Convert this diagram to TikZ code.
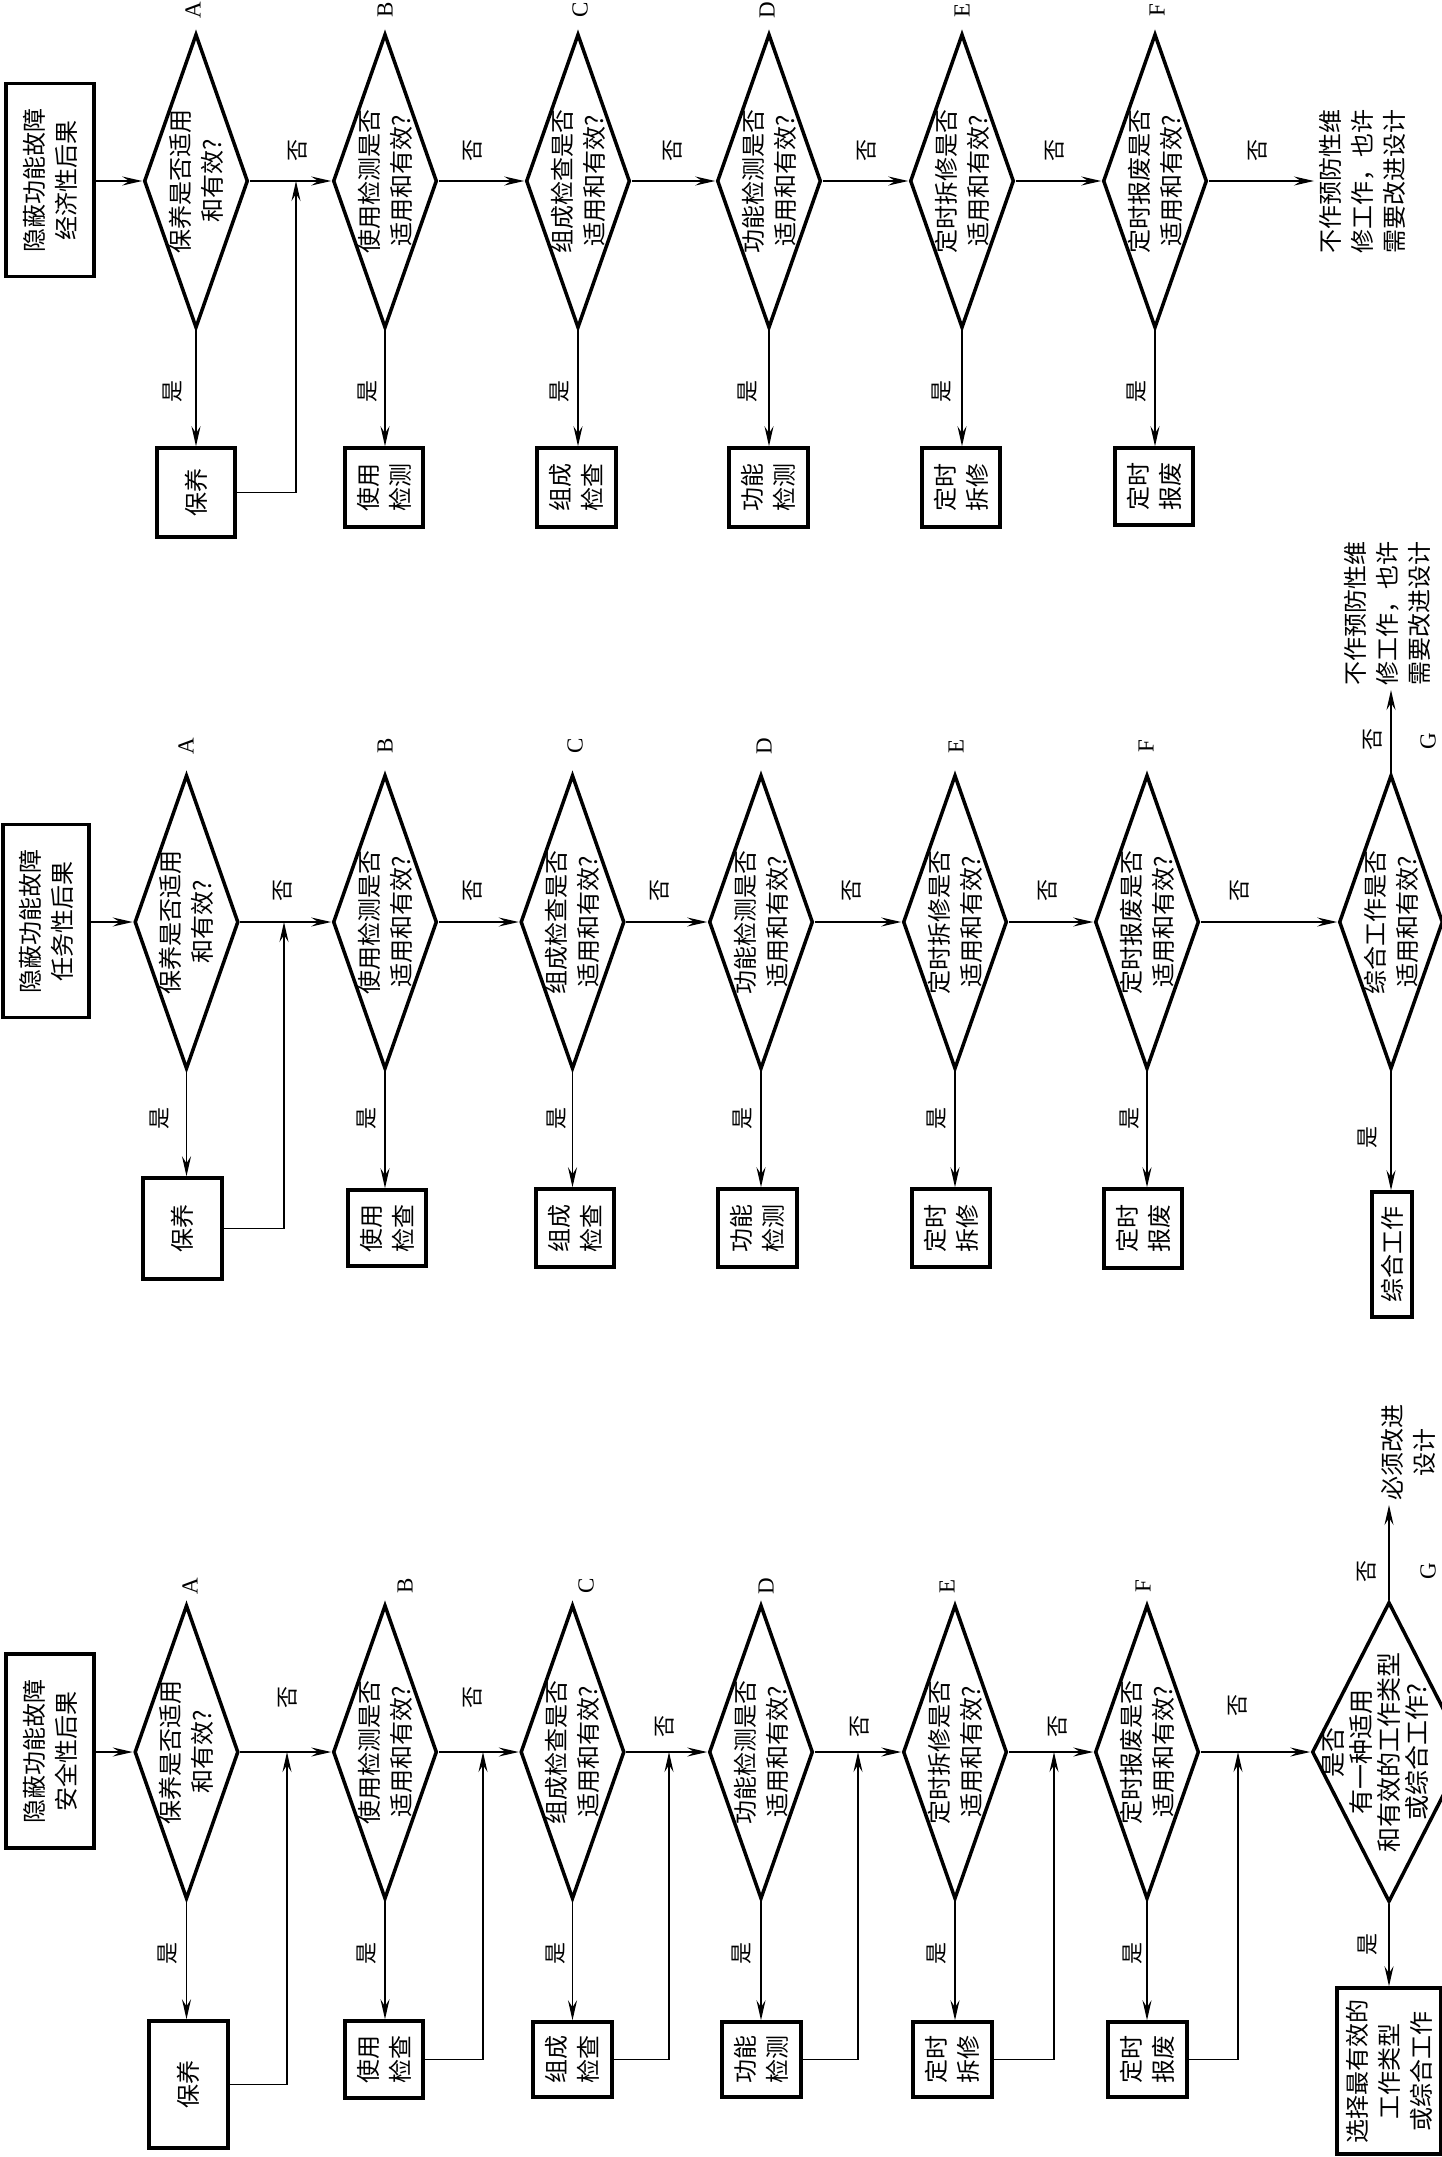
\documentclass[tikz,border=0pt]{standalone}
\usepackage{fontspec}
\setmainfont{Liberation Serif}
\newfontfamily\cjk{Noto Sans CJK SC}
\usetikzlibrary{shapes.geometric,arrows.meta}
\begin{document}
\begin{tikzpicture}[x=1pt,y=-1pt,
  dia/.style={draw,diamond,line width=3.5pt,inner sep=0pt,minimum width=104pt,minimum height=294pt},
  box/.style={draw,rectangle,line width=3.5pt,inner sep=0pt},
  txt/.style={rotate=90,align=center,font=\cjk\fontsize{24}{32}\selectfont,inner sep=0pt},
  yn/.style={rotate=90,font=\cjk\fontsize{22}{24}\selectfont,inner sep=0pt},
  lettr/.style={rotate=90,font=\fontsize{23}{24}\selectfont,inner sep=0pt},
  arr/.style={line width=1.5pt,-{Stealth[length=20pt,width=9pt,inset=7pt]}},
]
\clip (0,0) rectangle (1442,2157);
\fill[white] (0,0) rectangle (1442,2157);

% ================= top chart (economic) =================
\node[box,minimum width=88pt,minimum height=193pt] (tH) at (50,180) {};
\node[txt] (tHt) at (tH) {隐蔽功能故障\\经济性后果};
\node[dia] (tA) at (196,181) {};
\node[dia] (tB) at (385,181) {};
\node[dia] (tC) at (578,181) {};
\node[dia] (tD) at (769,181) {};
\node[dia] (tE) at (962,181) {};
\node[dia] (tF) at (1155,181) {};
\node[txt] (tAt) at (tA) {保养是否适用\\和有效?};
\node[txt] (tBt) at (tB) {使用检测是否\\适用和有效?};
\node[txt] (tCt) at (tC) {组成检查是否\\适用和有效?};
\node[txt] (tDt) at (tD) {功能检测是否\\适用和有效?};
\node[txt] (tEt) at (tE) {定时拆修是否\\适用和有效?};
\node[txt] (tFt) at (tF) {定时报废是否\\适用和有效?};
\node[box,minimum width=78pt,minimum height=89pt] (tAb) at (196,492.5) {};
\node[box,minimum width=78pt,minimum height=79pt] (tBb) at (384,487.5) {};
\node[box,minimum width=79pt,minimum height=79pt] (tCb) at (576.5,487.5) {};
\node[box,minimum width=79pt,minimum height=79pt] (tDb) at (768.5,487.5) {};
\node[box,minimum width=78pt,minimum height=79pt] (tEb) at (961,487.5) {};
\node[box,minimum width=78pt,minimum height=77pt] (tFb) at (1154,486.5) {};
\node[txt] (tAbt) at (tAb) {保养};
\node[txt] (tBbt) at (tBb) {使用\\检测};
\node[txt] (tCbt) at (tCb) {组成\\检查};
\node[txt] (tDbt) at (tDb) {功能\\检测};
\node[txt] (tEbt) at (tEb) {定时\\拆修};
\node[txt] (tFbt) at (tFb) {定时\\报废};
\draw[arr] (tH.east |- tA.west) -- (tA.west);
\draw[arr] (tA.east) -- (tB.west);
\draw[arr] (tB.east) -- (tC.west);
\draw[arr] (tC.east) -- (tD.west);
\draw[arr] (tD.east) -- (tE.west);
\draw[arr] (tE.east) -- (tF.west);
\foreach \n in {tA,tB,tC,tD,tE,tF}{\draw[arr] (\n.south) -- (\n.south |- \n b.north);}
\coordinate (tR) at (296,181);
\draw[arr] (tAb.east) -| (tR);
\coordinate (tEnd) at (1314,181);
\draw[arr] (tF.east) -- (tEnd);
\node[txt,anchor=north] (tEndT) at (1319,181) {不作预防性维\\修工作，也许\\需要改进设计};
\node[yn] (tN1) at (298,150) {否};
\node[yn] (tN2) at (473,150) {否};
\node[yn] (tN3) at (673,150) {否};
\node[yn] (tN4) at (867,150) {否};
\node[yn] (tN5) at (1055,150) {否};
\node[yn] (tN6) at (1258,150) {否};
\node[yn] (tY1) at (173,391) {是};
\node[yn] (tY2) at (368,391) {是};
\node[yn] (tY3) at (560,391) {是};
\node[yn] (tY4) at (748,391) {是};
\node[yn] (tY5) at (942,391) {是};
\node[yn] (tY6) at (1137,391) {是};
\node[lettr] (tLA) at (193,10) {A};
\node[lettr] (tLB) at (385,10) {B};
\node[lettr] (tLC) at (580,10) {C};
\node[lettr] (tLD) at (767,10) {D};
\node[lettr] (tLE) at (962,10) {E};
\node[lettr] (tLF) at (1157,10) {F};

% ================= middle chart (mission) =================
\node[box,minimum width=86pt,minimum height=193pt] (mH) at (46,921) {};
\node[txt] (mHt) at (mH) {隐蔽功能故障\\任务性后果};
\node[dia] (mA) at (186.5,922) {};
\node[dia] (mB) at (385,922) {};
\node[dia] (mC) at (572.5,922) {};
\node[dia] (mD) at (761,922) {};
\node[dia] (mE) at (955,922) {};
\node[dia] (mF) at (1147,922) {};
\node[dia] (mG) at (1391,922) {};
\node[txt] (mAt) at (mA) {保养是否适用\\和有效?};
\node[txt] (mBt) at (mB) {使用检测是否\\适用和有效?};
\node[txt] (mCt) at (mC) {组成检查是否\\适用和有效?};
\node[txt] (mDt) at (mD) {功能检测是否\\适用和有效?};
\node[txt] (mEt) at (mE) {定时拆修是否\\适用和有效?};
\node[txt] (mFt) at (mF) {定时报废是否\\适用和有效?};
\node[txt] (mGt) at (mG) {综合工作是否\\适用和有效?};
\node[box,minimum width=79pt,minimum height=101pt] (mAb) at (182.5,1228.5) {};
\node[box,minimum width=78pt,minimum height=76pt] (mBb) at (387,1228) {};
\node[box,minimum width=78pt,minimum height=78pt] (mCb) at (575,1228) {};
\node[box,minimum width=79pt,minimum height=78pt] (mDb) at (757.5,1228) {};
\node[box,minimum width=78pt,minimum height=78pt] (mEb) at (951,1228) {};
\node[box,minimum width=78pt,minimum height=79pt] (mFb) at (1143,1228.5) {};
\node[box,minimum width=40pt,minimum height=125pt] (mGb) at (1392,1254.5) {};
\node[txt] (mAbt) at (mAb) {保养};
\node[txt] (mBbt) at (mBb) {使用\\检查};
\node[txt] (mCbt) at (mCb) {组成\\检查};
\node[txt] (mDbt) at (mDb) {功能\\检测};
\node[txt] (mEbt) at (mEb) {定时\\拆修};
\node[txt] (mFbt) at (mFb) {定时\\报废};
\node[txt] (mGbt) at (mGb) {综合工作};
\draw[arr] (mH.east |- mA.west) -- (mA.west);
\draw[arr] (mA.east) -- (mB.west);
\draw[arr] (mB.east) -- (mC.west);
\draw[arr] (mC.east) -- (mD.west);
\draw[arr] (mD.east) -- (mE.west);
\draw[arr] (mE.east) -- (mF.west);
\draw[arr] (mF.east) -- (mG.west);
\foreach \n in {mA,mB,mC,mD,mE,mF,mG}{\draw[arr] (\n.south) -- (\n.south |- \n b.north);}
\coordinate (mR) at (284,922);
\draw[arr] (mAb.east) -| (mR);
\coordinate (mEnd) at (1391,690);
\draw[arr] (mG.north) -- (mEnd);
\node[txt,anchor=west] (mEndT) at (1387,686) {不作预防性维\\修工作，也许\\需要改进设计};
\node[yn] (mN1) at (283,890) {否};
\node[yn] (mN2) at (473,890) {否};
\node[yn] (mN3) at (660,890) {否};
\node[yn] (mN4) at (852,890) {否};
\node[yn] (mN5) at (1048,890) {否};
\node[yn] (mN6) at (1240,890) {否};
\node[yn] (mN7) at (1373,739) {否};
\node[yn] (mY1) at (160,1118) {是};
\node[yn] (mY2) at (367,1118) {是};
\node[yn] (mY3) at (557,1118) {是};
\node[yn] (mY4) at (743,1118) {是};
\node[yn] (mY5) at (937,1118) {是};
\node[yn] (mY6) at (1130,1118) {是};
\node[yn] (mY7) at (1368,1137) {是};
\node[lettr] (mLA) at (186,746) {A};
\node[lettr] (mLB) at (385,746) {B};
\node[lettr] (mLC) at (575,746) {C};
\node[lettr] (mLD) at (764,746) {D};
\node[lettr] (mLE) at (956,746) {E};
\node[lettr] (mLF) at (1146,746) {F};
\node[lettr] (mLG) at (1428,741) {G};

% ================= bottom chart (safety) =================
\node[box,minimum width=88pt,minimum height=194pt] (bH) at (50,1751) {};
\node[txt] (bHt) at (bH) {隐蔽功能故障\\安全性后果};
\node[dia] (bA) at (186.5,1752) {};
\node[dia] (bB) at (385,1752) {};
\node[dia] (bC) at (572.5,1752) {};
\node[dia] (bD) at (761,1752) {};
\node[dia] (bE) at (955,1752) {};
\node[dia] (bF) at (1147,1752) {};
\node[dia,minimum width=154pt,minimum height=300pt] (bG) at (1389,1752) {};
\node[txt] (bAt) at (bA) {保养是否适用\\和有效?};
\node[txt] (bBt) at (bB) {使用检测是否\\适用和有效?};
\node[txt] (bCt) at (bC) {组成检查是否\\适用和有效?};
\node[txt] (bDt) at (bD) {功能检测是否\\适用和有效?};
\node[txt] (bEt) at (bE) {定时拆修是否\\适用和有效?};
\node[txt] (bFt) at (bF) {定时报废是否\\适用和有效?};
\node[txt,font=\cjk\fontsize{25}{28}\selectfont] (bGt) at (1376,1752) {是否\\有一种适用\\和有效的工作类型\\或综合工作?};
\node[box,minimum width=79pt,minimum height=127pt] (bAb) at (188.5,2084.5) {};
\node[box,minimum width=78pt,minimum height=77pt] (bBb) at (384,2059.5) {};
\node[box,minimum width=79pt,minimum height=75pt] (bCb) at (572.5,2059.5) {};
\node[box,minimum width=79pt,minimum height=75pt] (bDb) at (761.5,2059.5) {};
\node[box,minimum width=79pt,minimum height=75pt] (bEb) at (952.5,2059.5) {};
\node[box,minimum width=79pt,minimum height=75pt] (bFb) at (1147.5,2059.5) {};
\node[box,minimum width=104pt,minimum height=166pt] (bGb) at (1389,2071) {};
\node[txt] (bAbt) at (bAb) {保养};
\node[txt] (bBbt) at (bBb) {使用\\检查};
\node[txt] (bCbt) at (bCb) {组成\\检查};
\node[txt] (bDbt) at (bDb) {功能\\检测};
\node[txt] (bEbt) at (bEb) {定时\\拆修};
\node[txt] (bFbt) at (bFb) {定时\\报废};
\node[txt] (bGbt) at (bGb) {选择最有效的\\工作类型\\或综合工作};
\draw[arr] (bH.east |- bA.west) -- (bA.west);
\draw[arr] (bA.east) -- (bB.west);
\draw[arr] (bB.east) -- (bC.west);
\draw[arr] (bC.east) -- (bD.west);
\draw[arr] (bD.east) -- (bE.west);
\draw[arr] (bE.east) -- (bF.west);
\draw[arr] (bF.east) -- (bG.west);
\foreach \n in {bA,bB,bC,bD,bE,bF,bG}{\draw[arr] (\n.south) -- (\n.south |- \n b.north);}
\coordinate (bR1) at (287,1752);
\coordinate (bR2) at (483,1752);
\coordinate (bR3) at (669,1752);
\coordinate (bR4) at (858,1752);
\coordinate (bR5) at (1054,1752);
\coordinate (bR6) at (1238,1752);
\draw[arr] (bAb.east) -| (bR1);
\draw[arr] (bBb.east) -| (bR2);
\draw[arr] (bCb.east) -| (bR3);
\draw[arr] (bDb.east) -| (bR4);
\draw[arr] (bEb.east) -| (bR5);
\draw[arr] (bFb.east) -| (bR6);
\coordinate (bEnd) at (1389,1505);
\draw[arr] (bG.north) -- (bEnd);
\node[txt,anchor=west] (bEndT) at (1408,1501) {必须改进\\设计};
\node[yn] (bN1) at (288,1697) {否};
\node[yn] (bN2) at (473,1697) {否};
\node[yn] (bN3) at (665,1726) {否};
\node[yn] (bN4) at (860,1726) {否};
\node[yn] (bN5) at (1058,1726) {否};
\node[yn] (bN6) at (1238,1705) {否};
\node[yn] (bN7) at (1367,1571) {否};
\node[yn] (bY1) at (168,1953) {是};
\node[yn] (bY2) at (367,1953) {是};
\node[yn] (bY3) at (556,1953) {是};
\node[yn] (bY4) at (742,1953) {是};
\node[yn] (bY5) at (937,1953) {是};
\node[yn] (bY6) at (1133,1953) {是};
\node[yn] (bY7) at (1368,1944) {是};
\node[lettr] (bLA) at (190,1586) {A};
\node[lettr] (bLB) at (405,1586) {B};
\node[lettr] (bLC) at (586,1586) {C};
\node[lettr] (bLD) at (766,1586) {D};
\node[lettr] (bLE) at (947,1586) {E};
\node[lettr] (bLF) at (1143,1586) {F};
\node[lettr] (bLG) at (1428,1571) {G};
\end{tikzpicture}
\end{document}
